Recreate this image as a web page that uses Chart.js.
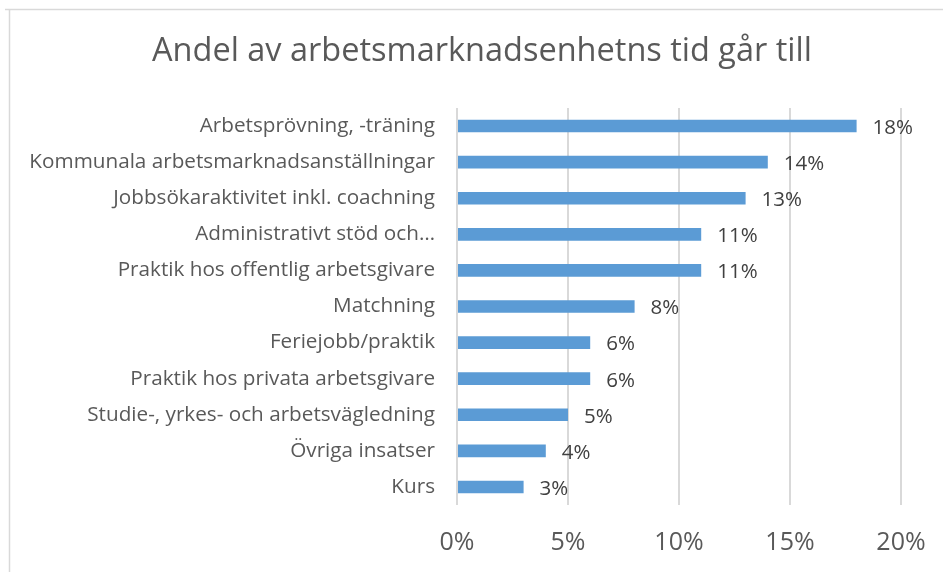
<!DOCTYPE html>
<html>
<head>
<meta charset="utf-8">
<script src="https://cdn.jsdelivr.net/npm/chart.js@4"></script>
<style>
html,body{margin:0;padding:0;background:#fff;}
#wrap{position:relative;width:943px;height:572px;}
canvas{display:block;}
</style>
</head>
<body>
<div id="wrap"><canvas id="c" width="943" height="572"></canvas></div>
<script>
const titleText = "Andel av arbetsmarknadsenhetns tid går till";
const categories = [
  "Arbetsprövning, -träning",
  "Kommunala arbetsmarknadsanställningar",
  "Jobbsökaraktivitet inkl. coachning",
  "Administrativt stöd och…",
  "Praktik hos offentlig arbetsgivare",
  "Matchning",
  "Feriejobb/praktik",
  "Praktik hos privata arbetsgivare",
  "Studie-, yrkes- och arbetsvägledning",
  "Övriga insatser",
  "Kurs"
];
const values = [18, 14, 13, 11, 11, 8, 6, 6, 5, 4, 3];
const xTicks = [0, 5, 10, 15, 20];

const FONT = "'Open Sans', Lato, sans-serif";

const frame = {
  id: 'frame',
  beforeDraw(chart) {
    const ctx = chart.ctx;
    ctx.save();
    ctx.strokeStyle = '#d9d9d9';
    ctx.lineWidth = 1.5;
    ctx.beginPath();
    ctx.moveTo(5, 9.5); ctx.lineTo(943, 9.5);
    ctx.moveTo(9.5, 9); ctx.lineTo(9.5, 572);
    ctx.stroke();
    ctx.restore();
  }
};

const titleDraw = {
  id: 'titleDraw',
  afterDraw(chart) {
    const ctx = chart.ctx;
    ctx.save();
    ctx.font = "32.5px " + FONT;
    ctx.fillStyle = '#595959';
    ctx.textAlign = 'center';
    ctx.textBaseline = 'middle';
    ctx.fillText(titleText, 482, 52);
    ctx.restore();
  }
};

const valueLabels = {
  id: 'valueLabels',
  afterDatasetsDraw(chart) {
    const ctx = chart.ctx;
    const meta = chart.getDatasetMeta(0);
    ctx.save();
    ctx.font = "20.5px " + FONT;
    ctx.fillStyle = '#404040';
    ctx.textAlign = 'left';
    ctx.textBaseline = 'middle';
    meta.data.forEach((bar, i) => {
      ctx.fillText(values[i] + '%', bar.x + 16, bar.y + 2);
    });
    ctx.restore();
  }
};

new Chart(document.getElementById('c'), {
  type: 'bar',
  data: {
    labels: categories,
    datasets: [{
      data: values,
      backgroundColor: '#5B9BD5',
      borderWidth: 0,
      barPercentage: 0.7,
      categoryPercentage: 0.5
    }]
  },
  options: {
    indexAxis: 'y',
    responsive: false,
    animation: false,
    devicePixelRatio: 1,
    layout: { padding: { left: 20, right: 42, top: 108, bottom: 0 } },
    plugins: {
      legend: { display: false },
      tooltip: { enabled: false },
      title: { display: false }
    },
    scales: {
      x: {
        min: 0, max: 20,
        afterBuildTicks(scale) { scale.ticks = xTicks.map(v => ({ value: v })); },
        afterFit(scale) { scale.height = 67; scale.paddingLeft = 0; scale.paddingRight = 0; },
        grid: { color: '#d9d9d9', lineWidth: 2, drawTicks: false },
        border: { display: false },
        ticks: {
          padding: 23,
          color: '#595959',
          font: { family: FONT, size: 25 },
          maxRotation: 0,
          callback: v => v + '%'
        }
      },
      y: {
        afterFit(scale) { scale.width = 437; scale.paddingTop = 0; scale.paddingBottom = 0; },
        grid: { display: false, drawTicks: false },
        border: { display: false },
        ticks: {
          padding: 22,
          color: '#595959',
          font: { family: FONT, size: 20.7 },
          autoSkip: false
        }
      }
    }
  },
  plugins: [frame, valueLabels, titleDraw]
});
</script>
</body>
</html>
